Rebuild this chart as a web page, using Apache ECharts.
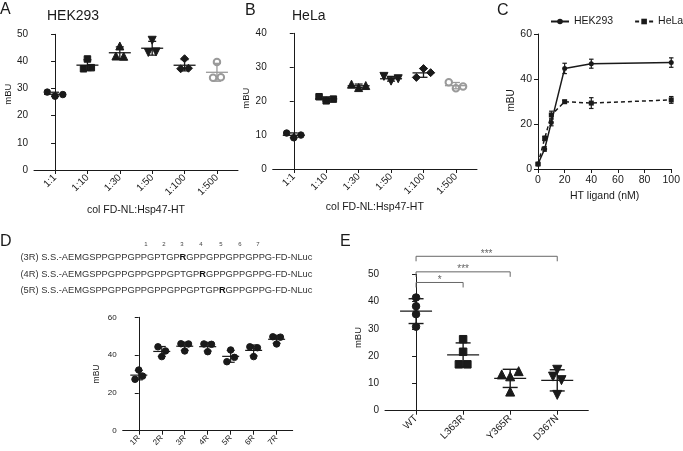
<!DOCTYPE html>
<html><head><meta charset="utf-8">
<script src="https://cdn.jsdelivr.net/npm/echarts@6/dist/echarts.min.js"></script>
<style>html,body{margin:0;padding:0;background:#fff}#c{width:683px;height:451px}</style>
</head><body><div id="c"></div>
<script>
// ---------------- data ----------------
const dilutionCats = ['1:1','1:10','1:30','1:50','1:100','1:500'];
const hek293Values = [[28.7,27.2,27.8],[37.3,40.9,37.7],[42.0,45.7,41.9],[43.3,47.8,43.5],[37.3,41.0,37.5],[34.0,39.8,34.2]];
const helaValues   = [[10.6,9.2,10.0],[21.3,20.1,20.6],[25.0,24.0,24.6],[27.3,25.9,26.6],[27.0,29.6,28.4],[25.6,23.8,24.3]];
const ligandNM = [0,5,10,20,40,100];
const hekLigandMean  = [2.2,8.9,20.7,44.7,46.8,47.3];
const hekLigandSD    = [0.6,1.0,1.5,2.3,2.0,2.1];
const helaLigandMean = [2.2,13.6,24.0,29.9,29.3,30.7];
const helaLigandSD   = [0.6,1.0,1.7,0.6,2.4,1.5];
const repeatCats = ['1R','2R','3R','4R','5R','6R','7R'];
const repeatValues = [[27.2,32.1,28.9],[39.2,44.4,42.2],[42.2,46.0,45.9],[45.9,41.8,45.7],[36.5,42.7,38.8],[44.4,39.2,43.9],[49.7,45.9,49.5]];
const mutantCats = ['WT','L363R','Y365R','D367N'];
const mutantValues = [[41.5,38.3,35.4,30.8],[26.2,21.6,17.0,17.0],[13.3,12.6,14.5,7.0],[15.0,12.5,11.2,5.8]];
const sigPairs  = [[0,1,'*'],[0,2,'***'],[0,3,'***']];
const sigLevels = [47.0,50.9,56.6];
const seqLines = [
  ['(3R) S.S.-AEMGSPPGPPGPPGPTGP','R','GPPGPPGPPGPPG-FD-NLuc'],
  ['(4R) S.S.-AEMGSPPGPPGPPGPPGPTGP','R','GPPGPPGPPG-FD-NLuc'],
  ['(5R) S.S.-AEMGSPPGPPGPPGPPGPPGPTGP','R','GPPGPPG-FD-NLuc']
];
const repeatNumbers = ['1','2','3','4','5','6','7'];

// ---------------- helpers ----------------
const FONT = "'Liberation Sans', Arial, sans-serif";
const INK = '#1a1a1a';
const GREY = '#9a9a9a';
const mean = a => a.reduce((s,v)=>s+v,0)/a.length;
const sd = a => { const m=mean(a); return Math.sqrt(a.reduce((s,v)=>s+(v-m)*(v-m),0)/(a.length-1)); };

// horizontal spreading of points with close values (dot-plot layout)
function swarm(vals, thresh, step){
  const order = vals.map((v,i)=>i).sort((a,b)=>vals[a]-vals[b]);
  const offs = vals.map(()=>0);
  let cl=[order[0]];
  const flush=()=>{ cl.sort((a,b)=>a-b); const n=cl.length; cl.forEach((id,k)=>offs[id]=(k-(n-1)/2)*step); };
  for(let k=1;k<order.length;k++){
    if(vals[order[k]]-vals[order[k-1]]<thresh) cl.push(order[k]); else { flush(); cl=[order[k]]; }
  }
  flush();
  return offs;
}
function dotData(groups, thresh, step, symbols, rots, colors, sizes){
  const out=[];
  groups.forEach((vals,i)=>{
    const offs=swarm(vals,thresh,step);
    vals.forEach((v,j)=>out.push({value:[i+offs[j],v],symbol:symbols[i],symbolRotate:rots[i],symbolSize:sizes[i],
      itemStyle:{color:colors[i],borderColor:colors[i],borderWidth:1,opacity:1}}));
  });
  return out;
}
function statData(groups, colors){
  return groups.map((vals,i)=>({value:[i,mean(vals),sd(vals)],itemStyle:{color:colors[i]}}));
}
function errorBarRender(meanW, capW, lw){
  return (params, api) => {
    const x=api.value(0), m=api.value(1), s=api.value(2);
    const c=api.coord([x,m]), hi=api.coord([x,m+s]), lo=api.coord([x,m-s]);
    const st={stroke:api.visual('color'), lineWidth:lw, fill:null};
    const L=(x1,y1,x2,y2)=>({type:'line',shape:{x1,y1,x2,y2},style:st});
    const ch=[L(hi[0],hi[1],lo[0],lo[1]),
      L(hi[0]-capW/2,hi[1],hi[0]+capW/2,hi[1]),
      L(lo[0]-capW/2,lo[1],lo[0]+capW/2,lo[1])];
    if(meanW>0) ch.push(L(c[0]-meanW/2,c[1],c[0]+meanW/2,c[1]));
    return {type:'group',children:ch};
  };
}
const range = n => Array.from({length:n},(_,i)=>i);

function yAx(grid, max, interval, fs, nfs, gap, shift){
  return {gridIndex:grid,type:'value',min:0,max:max,interval:interval,
    axisLine:{show:true,lineStyle:{color:INK,width:1}},
    axisTick:{show:true,length:4,lineStyle:{color:INK}},
    axisLabel:{fontSize:fs,color:INK,margin:6,fontFamily:FONT},
    splitLine:{show:false},
    name:'mBU',nameLocation:'middle',nameGap:gap,
    nameTextStyle:{fontSize:nfs,color:INK,fontFamily:FONT,padding:[0,0,0,shift]}};
}
function catX(grid, cats, min, max, fs, name, nameGap){
  const vals=range(cats.length);
  return {gridIndex:grid,type:'value',min:min,max:max,
    axisLine:{show:true,onZero:false,lineStyle:{color:INK,width:1}},
    axisTick:{show:true,length:4,customValues:vals,lineStyle:{color:INK}},
    axisLabel:{customValues:vals,rotate:45,fontSize:fs,color:INK,margin:6,fontFamily:FONT,
      formatter:v=>cats[Math.round(v)]},
    splitLine:{show:false},
    name:name||'',nameLocation:'middle',nameGap:nameGap||0,
    nameTextStyle:{fontSize:10.5,color:INK,fontFamily:FONT}};
}

const abSymbols=['circle','rect','triangle','triangle','diamond','emptyCircle'];
const abRots=[0,0,0,180,0,0];
const abSizes=[6.5,6.5,8,8,8,6.5];
const abColors=[INK,INK,INK,INK,INK,GREY];
const eSymbols=['circle','rect','triangle','triangle'];
const eRots=[0,0,0,180];
const eSizes=[7.5,7.5,9,9];
const eColors=[INK,INK,INK,INK];
const dColors=repeatCats.map(()=>INK);

const txt=(x,y,text,fs,extra)=>Object.assign({type:'text',x:x,y:y,silent:true,
  style:Object.assign({text:text,fontSize:fs,fontFamily:FONT,fill:INK,align:'left',verticalAlign:'middle'},extra||{})});

const graphics=[
  txt(0,10,'A',16), txt(245,11,'B',16), txt(497,11,'C',16), txt(0,242,'D',16), txt(340,242,'E',16),
  txt(47,16,'HEK293',14), txt(292,16,'HeLa',14)
];
const seqY=[257.5,274,290.5];
seqLines.forEach((parts,i)=>{
  graphics.push({type:'text',x:20.5,y:seqY[i],silent:true,style:{
    text:'{n|'+parts[0]+'}{b|'+parts[1]+'}{n|'+parts[2]+'}',
    align:'left',verticalAlign:'middle',
    rich:{n:{fontSize:9.3,fontFamily:FONT,fill:'#333'},b:{fontSize:9.3,fontFamily:FONT,fill:'#111',fontWeight:'bold'}}}});
});
const numX=[146,164,182,201,221,240,258];
repeatNumbers.forEach((t,i)=>graphics.push(txt(numX[i],244,t,6,{align:'center',fill:'#444'})));

const option={
  animation:false,
  textStyle:{fontFamily:FONT},
  graphic:graphics,
  legend:{data:['HEK293','HeLa'],orient:'horizontal',left:550,top:16,width:200,padding:0,
    itemWidth:18,itemHeight:7,itemGap:21,
    textStyle:{fontSize:10.5,color:INK,fontFamily:FONT}},
  grid:[
    {left:34,top:34.3,width:204,height:135.7},
    {left:272.7,top:33.3,width:204.3,height:135.7},
    {left:538,top:34,width:137,height:135},
    {left:122.7,top:317.3,width:170,height:113.4},
    {left:385,top:274.3,width:203.3,height:136.4}
  ],
  xAxis:[
    catX(0,dilutionCats,-0.65,5.65,10,'col FD-NL:Hsp47-HT',35),
    catX(1,dilutionCats,-0.65,5.65,10,'col FD-NL:Hsp47-HT',33),
    {gridIndex:2,type:'value',min:0,max:100,interval:20,
      axisLine:{show:true,onZero:false,lineStyle:{color:INK}},
      axisTick:{show:true,length:4,lineStyle:{color:INK}},
      axisLabel:{fontSize:10.5,color:INK,margin:6,fontFamily:FONT},
      splitLine:{show:false},
      name:'HT ligand (nM)',nameLocation:'middle',nameGap:22,
      nameTextStyle:{fontSize:10.5,color:INK,fontFamily:FONT}},
    catX(3,repeatCats,-0.7,6.7,8),
    catX(4,mutantCats,-0.66,3.66,10)
  ],
  yAxis:[
    yAx(0,50,10,10,9.5,20,16),
    yAx(1,40,10,10,9.5,20,6),
    yAx(2,60,20,10.5,10,21,2),
    yAx(3,60,20,8,8.5,22,0),
    yAx(4,50,10,10,9.5,22,10)
  ],
  series:[
    {type:'scatter',xAxisIndex:0,yAxisIndex:0,z:2,itemStyle:{opacity:1},
      data:dotData(hek293Values,2.4,0.24,abSymbols,abRots,abColors,abSizes)},
    {type:'custom',xAxisIndex:0,yAxisIndex:0,z:3,renderItem:errorBarRender(22,8,1.3),
      data:statData(hek293Values,abColors)},
    {type:'scatter',xAxisIndex:1,yAxisIndex:1,z:2,itemStyle:{opacity:1},
      data:dotData(helaValues,1.9,0.22,abSymbols,abRots,abColors,abSizes)},
    {type:'custom',xAxisIndex:1,yAxisIndex:1,z:3,renderItem:errorBarRender(22,8,1.3),
      data:statData(helaValues,abColors)},
    {type:'line',name:'HEK293',xAxisIndex:2,yAxisIndex:2,symbol:'circle',symbolSize:5,z:3,
      lineStyle:{color:INK,width:1.5},itemStyle:{color:INK},
      data:ligandNM.map((x,i)=>[x,hekLigandMean[i]])},
    {type:'line',name:'HeLa',xAxisIndex:2,yAxisIndex:2,symbol:'rect',symbolSize:5,z:3,
      lineStyle:{color:INK,width:1.5,type:[4,3]},itemStyle:{color:INK},
      data:ligandNM.map((x,i)=>[x,helaLigandMean[i]])},
    {type:'custom',xAxisIndex:2,yAxisIndex:2,z:4,renderItem:errorBarRender(0,4.5,1.2),
      data:ligandNM.map((x,i)=>({value:[x,hekLigandMean[i],hekLigandSD[i]],itemStyle:{color:INK}}))},
    {type:'custom',xAxisIndex:2,yAxisIndex:2,z:4,renderItem:errorBarRender(0,4.5,1.2),
      data:ligandNM.map((x,i)=>({value:[x,helaLigandMean[i],helaLigandSD[i]],itemStyle:{color:INK}}))},
    {type:'scatter',xAxisIndex:3,yAxisIndex:3,z:2,itemStyle:{opacity:1},
      data:dotData(repeatValues,3.0,0.33,repeatCats.map(()=>'circle'),repeatCats.map(()=>0),dColors,repeatCats.map(()=>6.5))},
    {type:'custom',xAxisIndex:3,yAxisIndex:3,z:3,renderItem:errorBarRender(17,8,1.2),
      data:statData(repeatValues,dColors)},
    {type:'scatter',xAxisIndex:4,yAxisIndex:4,z:2,itemStyle:{opacity:1},
      data:dotData(mutantValues,2.4,0.18,eSymbols,eRots,eColors,eSizes)},
    {type:'custom',xAxisIndex:4,yAxisIndex:4,z:3,renderItem:errorBarRender(32,15,1.4),
      data:statData(mutantValues,eColors)},
    {type:'custom',xAxisIndex:4,yAxisIndex:4,z:3,clip:false,
      renderItem:(params,api)=>{
        const a=api.value(0), b=api.value(1), h=api.value(2);
        const p1=api.coord([a,h]), p2=api.coord([b,h]);
        return {type:'group',children:[
          {type:'polyline',shape:{points:[[p1[0],p1[1]+5],[p1[0],p1[1]],[p2[0],p2[1]],[p2[0],p2[1]+5]]},
            style:{stroke:'#666',lineWidth:1,fill:null}},
          {type:'text',x:(p1[0]+p2[0])/2,y:p1[1]-2.5,
            style:{text:sigPairs[params.dataIndex][2],align:'center',verticalAlign:'middle',fontSize:10,fontFamily:FONT,fill:'#666'}}
        ]};
      },
      data:sigPairs.map((p,i)=>[p[0],p[1],sigLevels[i]])}
  ]
};
const chart=echarts.init(document.getElementById('c'),null,{renderer:'canvas'});
chart.setOption(option);
</script></body></html>
